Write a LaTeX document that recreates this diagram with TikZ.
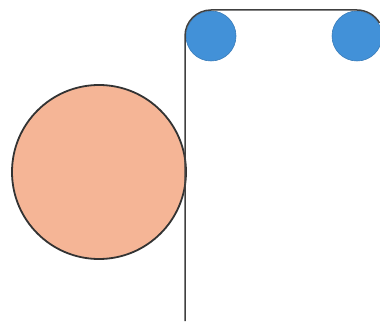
\documentclass[tikz,border=0pt]{standalone}
\begin{document}
\begin{tikzpicture}[x=1pt,y=-1pt,
  pulley/.style={circle,fill=pulleyblue,draw=pulleyblue!85!black,line width=0.6pt,minimum size=50pt,inner sep=0pt},
  ball/.style={circle,fill=ballsalmon,draw=black!80,line width=1.8pt,minimum size=174pt,inner sep=0pt},
  rope/.style={draw=black!75,line width=1.5pt}]
\definecolor{pulleyblue}{RGB}{66,145,216}
\definecolor{ballsalmon}{RGB}{245,181,150}
\useasboundingbox (0,0) rectangle (380,323);
\node[ball] (ball) at (99,172) {};
\node[pulley] (p1) at (211,36) {};
\node[pulley] (p2) at (357,36) {};
\coordinate (bottom) at (185,321);
\draw[rope] (bottom) -- (185,36) arc[start angle=180,end angle=270,radius=26]
  -- (357,10) arc[start angle=270,end angle=330,radius=26];
\end{tikzpicture}
\end{document}
